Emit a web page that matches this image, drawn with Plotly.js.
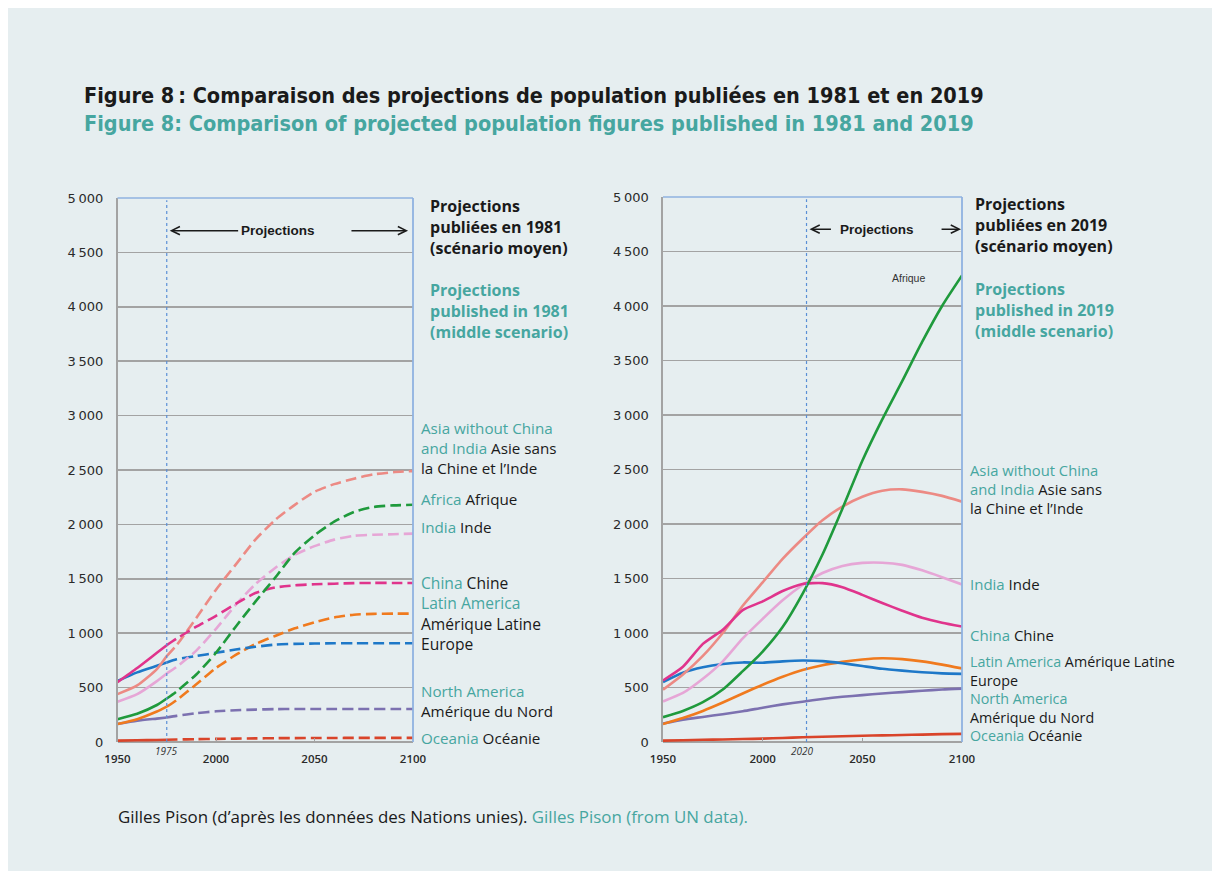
<!DOCTYPE html>
<html>
<head>
<meta charset="utf-8">
<script src="https://cdn.plot.ly/plotly-3.0.1.min.js"></script>
<style>
  html, body { margin:0; padding:0; background:#ffffff; }
  #chart { position:absolute; left:8px; top:8px; width:1204px; height:863px; }
</style>
</head>
<body>
<div id="chart"></div>
<script>
// ---------------- DATA ----------------
// Projections published in 1981 (millions)
const years1981Hist = [1950, 1960, 1970, 1975];
const years1981Proj = [1975, 1980, 1990, 2000, 2010, 2020, 2030, 2040, 2050, 2060, 2070, 2080, 2090, 2100];

const asia1981Hist   = [440, 520, 670, 790];
const asia1981Proj   = [790, 890, 1140, 1400, 1630, 1860, 2040, 2180, 2300, 2370, 2420, 2460, 2480, 2490];
const africa1981Hist = [210, 260, 340, 400];
const africa1981Proj = [400, 465, 620, 820, 1060, 1290, 1510, 1740, 1900, 2025, 2115, 2160, 2175, 2180];
const india1981Hist  = [370, 440, 560, 630];
const india1981Proj  = [630, 690, 840, 1040, 1260, 1450, 1600, 1720, 1800, 1860, 1895, 1905, 1910, 1915];
const china1981Hist  = [550, 680, 820, 890];
const china1981Proj  = [890, 950, 1060, 1160, 1270, 1370, 1420, 1440, 1450, 1455, 1460, 1462, 1462, 1462];
const latam1981Hist  = [165, 210, 280, 325];
const latam1981Proj  = [325, 385, 530, 680, 800, 900, 975, 1045, 1100, 1145, 1170, 1178, 1180, 1180];
const europe1981Hist = [560, 640, 700, 730];
const europe1981Proj = [730, 760, 790, 820, 850, 875, 895, 902, 905, 907, 908, 908, 908, 908];
const noram1981Hist  = [165, 195, 215, 225];
const noram1981Proj  = [225, 240, 265, 282, 292, 298, 302, 303, 303, 303, 303, 303, 303, 303];
const oceania1981Hist = [13, 16, 19, 21];
const oceania1981Proj = [21, 23, 26, 29, 31, 33, 35, 36, 37, 37, 38, 38, 38, 38];

// Projections published in 2019 (millions)
const years2019 = [1950, 1960, 1970, 1980, 1990, 2000, 2010, 2020, 2030, 2040, 2050, 2060, 2070, 2080, 2090, 2100];
const asia2019    = [480, 620, 790, 1000, 1250, 1465, 1680, 1865, 2035, 2160, 2250, 2305, 2318, 2295, 2258, 2205];
const africa2019  = [228, 285, 365, 481, 650, 830, 1055, 1360, 1720, 2140, 2580, 2960, 3310, 3670, 4000, 4280];
const india2019   = [372, 450, 580, 740, 950, 1130, 1300, 1440, 1550, 1615, 1643, 1645, 1625, 1575, 1512, 1445];
const china2019   = [565, 690, 900, 1030, 1210, 1290, 1385, 1450, 1458, 1420, 1350, 1275, 1205, 1140, 1095, 1060];
const latam2019   = [165, 220, 285, 362, 445, 525, 598, 660, 705, 735, 757, 768, 760, 740, 710, 675];
const europe2019  = [550, 635, 685, 715, 730, 727, 740, 748, 742, 722, 697, 672, 655, 640, 630, 625];
const noram2019   = [170, 205, 230, 255, 282, 315, 345, 370, 395, 415, 430, 445, 458, 470, 482, 490];
const oceania2019 = [13, 16, 20, 23, 27, 31, 37, 43, 48, 53, 57, 61, 64, 68, 72, 75];

// Axis ticks
const yTickVals = [0, 500, 1000, 1500, 2000, 2500, 3000, 3500, 4000, 4500, 5000];
const yTickText = ['0', '500', '1\u2009000', '1\u2009500', '2\u2009000', '2\u2009500', '3\u2009000', '3\u2009500', '4\u2009000', '4\u2009500', '5\u2009000'];
const xTickVals = [1950, 2000, 2050, 2100];
const xTickText = ['1950', '2000', '2050', '2100'];
const startProj1981 = 1975;
const startProj2019 = 2022;

// Texts
const titleFr = 'Figure 8\u2009: Comparaison des projections de population publiées en 1981 et en 2019';
const titleEn = 'Figure 8: Comparison of projected population figures published in 1981 and 2019';
const sourceFr = 'Gilles Pison (d\u2019après les données des Nations unies).';
const sourceEn = 'Gilles Pison (from UN data).';

// ---------------- STYLE ----------------
const TEAL = '#46a6a0';
const BLACK = '#1a1a1a';
const GRID = '#a3a3a3';
const FRAME = '#8fb2e0';
const col = {
  asia: '#ec8a84', africa: '#1f9a3c', india: '#e6a6d6', china: '#e0348c',
  latam: '#f07a1e', europe: '#1e78c8', noram: '#7c71b0', oceania: '#d9442a'
};
const TITLE_FONT = 'Liberation Sans Narrow, DejaVu Sans Condensed, sans-serif';

const W = 1204, H = 863;
const px = x => (x - 8) / W;           // page x -> paper
const py = y => (871 - y) / H;         // page y -> paper

const traces = [];
function add1981(hist, proj, c) {
  traces.push({x: years1981Hist, y: hist, xaxis: 'x', yaxis: 'y', mode: 'lines',
    line: {color: c, width: 2.6, shape: 'spline', smoothing: 0.6}, hoverinfo: 'skip'});
  traces.push({x: years1981Proj, y: proj, xaxis: 'x', yaxis: 'y', mode: 'lines',
    line: {color: c, width: 2.6, dash: '11px,5px', shape: 'spline', smoothing: 0.6}, hoverinfo: 'skip'});
}
function add2019(vals, c) {
  traces.push({x: years2019, y: vals, xaxis: 'x2', yaxis: 'y2', mode: 'lines',
    line: {color: c, width: 2.6, shape: 'spline', smoothing: 0.6}, hoverinfo: 'skip'});
}
add1981(oceania1981Hist, oceania1981Proj, col.oceania);
add1981(noram1981Hist, noram1981Proj, col.noram);
add1981(latam1981Hist, latam1981Proj, col.latam);
add1981(europe1981Hist, europe1981Proj, col.europe);
add1981(india1981Hist, india1981Proj, col.india);
add1981(asia1981Hist, asia1981Proj, col.asia);
add1981(china1981Hist, china1981Proj, col.china);
add1981(africa1981Hist, africa1981Proj, col.africa);

add2019(oceania2019, col.oceania);
add2019(noram2019, col.noram);
add2019(latam2019, col.latam);
add2019(europe2019, col.europe);
add2019(india2019, col.india);
add2019(asia2019, col.asia);
add2019(china2019, col.china);
add2019(africa2019, col.africa);

const yAxisBase = {
  range: [0, 5000], tickvals: yTickVals, ticktext: yTickText,
  showgrid: true, gridcolor: GRID, gridwidth: 1.6,
  zeroline: true, zerolinecolor: GRID, zerolinewidth: 1.6,
  showline: true, linecolor: GRID, linewidth: 1.6,
  ticks: '', ticklabelstandoff: 10,
  tickfont: {family: 'DejaVu Sans', size: 13, color: '#2a2a2a'},
  automargin: false, fixedrange: true
};
const xAxisBase = {
  range: [1950, 2100], tickvals: xTickVals, ticktext: xTickText,
  showgrid: false, zeroline: false, showline: false,
  ticks: 'inside', ticklen: 4, tickcolor: GRID, tickwidth: 1,
  ticklabelstandoff: 8,
  tickfont: {family: 'Open Sans', size: 11.5, color: '#2a2a2a', weight: 600},
  automargin: false, fixedrange: true
};

const annotations = [];
// block of lines: lines[], first/last line y in page pixels
function block(x, yFirst, yLast, lines, size, weight, color) {
  annotations.push({
    xref: 'paper', yref: 'paper', x: px(x), y: py((yFirst + yLast) / 2),
    text: lines.join('<br>'), showarrow: false, xanchor: 'left', yanchor: 'middle', align: 'left',
    borderpad: 0,
    font: {family: 'Open Sans', size: size, color: color || TEAL, weight: weight || 400}
  });
}
const K = s => '<span style="color:' + BLACK + '">' + s + '</span>';

// Title second line
annotations.push({xref: 'paper', yref: 'paper', x: px(83), y: py(124), xanchor: 'left', yanchor: 'middle',
  text: titleEn, showarrow: false, borderpad: 0,
  font: {family: TITLE_FONT, size: 21.5, color: TEAL, weight: 700}});

// Left headers
block(429, 206, 248, ['Projections', 'publiées en 1981', '(scénario moyen)'], 16, 700, BLACK);
block(429, 290, 333, ['Projections', 'published in 1981', '(middle scenario)'], 16, 700, TEAL);
// Left labels
block(420, 429, 468, ['Asia without China', 'and India ' + K('Asie sans'), K('la Chine et l\u2019Inde')], 15.2);
block(420, 499, 499, ['Africa ' + K('Afrique')], 15.2);
block(420, 527, 527, ['India ' + K('Inde')], 15.2);
block(420, 582, 644, ['China ' + K('Chine'), 'Latin America', K('Amérique Latine'), K('Europe')], 15.6);
block(420, 691, 711, ['North America', K('Amérique du Nord')], 15.2);
block(420, 738, 738, ['Oceania ' + K('Océanie')], 15.2);

// Right headers
block(974, 204, 246, ['Projections', 'publiées en 2019', '(scénario moyen)'], 16, 700, BLACK);
block(974, 289, 331, ['Projections', 'published in 2019', '(middle scenario)'], 16, 700, TEAL);
// Right labels
block(969, 470, 508, ['Asia without China', 'and India ' + K('Asie sans'), K('la Chine et l\u2019Inde')], 14.8);
block(969, 584, 584, ['India ' + K('Inde')], 15);
block(969, 635, 635, ['China ' + K('Chine')], 15);
block(969, 662, 735, ['Latin America ' + K('Amérique Latine'), K('Europe'), 'North America',
  K('Amérique du Nord'), 'Oceania ' + K('Océanie')], 14.3);

// Source
annotations.push({xref: 'paper', yref: 'paper', x: px(117), y: py(816), xanchor: 'left', yanchor: 'middle',
  showarrow: false, borderpad: 0,
  text: sourceFr + ' <span style="color:' + TEAL + '">' + sourceEn + '</span>',
  font: {family: 'Open Sans', size: 16.9, color: BLACK}});

// In-chart texts
annotations.push({xref: 'x', yref: 'y', x: 2031.5, y: 4700, text: '<b>Projections</b>', showarrow: false,
  font: {family: 'Liberation Sans', size: 13.5, color: BLACK}});
annotations.push({xref: 'x2', yref: 'y2', x: 2057.5, y: 4705, text: '<b>Projections</b>', showarrow: false,
  font: {family: 'Liberation Sans', size: 13.5, color: BLACK}});
annotations.push({xref: 'x2', yref: 'y2', x: 2073, y: 4260, text: 'Afrique', showarrow: false,
  font: {family: 'Liberation Sans', size: 10.5, color: '#333'}});
// year markers
annotations.push({xref: 'x', yref: 'y', x: startProj1981, y: 0, yshift: 0, text: '<i>1975</i>', showarrow: false,
  yanchor: 'top', font: {family: 'Open Sans', size: 10, color: '#333'}});
annotations.push({xref: 'x2', yref: 'y2', x: 2020, y: 0, yshift: 0, text: '<i>2020</i>', showarrow: false,
  yanchor: 'top', font: {family: 'Open Sans', size: 10, color: '#333'}});
// arrows
function arrow(xr, yr, hx, tx, y) {
  annotations.push({xref: xr, yref: yr, axref: xr, ayref: yr, x: hx, y: y, ax: tx, ay: y,
    text: '', showarrow: true, arrowhead: 5, arrowsize: 1.1, arrowwidth: 1.5, arrowcolor: BLACK, standoff: 0});
}
arrow('x', 'y', 1976.5, 2012, 4700);
arrow('x', 'y', 2097.5, 2068, 4700);
arrow('x2', 'y2', 2023.5, 2035, 4705);
arrow('x2', 'y2', 2099.5, 2089, 4705);

const shapes = [
  // projection start lines
  {type: 'line', xref: 'x', yref: 'y', x0: startProj1981, x1: startProj1981, y0: 0, y1: 4980,
    line: {color: '#5a8fd6', width: 1.2, dash: 'dot'}},
  {type: 'line', xref: 'x2', yref: 'y2', x0: startProj2019, x1: startProj2019, y0: 0, y1: 4980,
    line: {color: '#5a8fd6', width: 1.2, dash: 'dot'}},
  // blue frame (top + right)
  {type: 'line', xref: 'x domain', yref: 'y domain', x0: 0, x1: 1, y0: 1, y1: 1, line: {color: FRAME, width: 1.6}},
  {type: 'line', xref: 'x domain', yref: 'y domain', x0: 1, x1: 1, y0: 0, y1: 1, line: {color: FRAME, width: 1.8}},
  {type: 'line', xref: 'x2 domain', yref: 'y2 domain', x0: 0, x1: 1, y0: 1, y1: 1, line: {color: FRAME, width: 1.6}},
  {type: 'line', xref: 'x2 domain', yref: 'y2 domain', x0: 1, x1: 1, y0: 0, y1: 1, line: {color: FRAME, width: 1.8}}
];

const layout = {
  width: W, height: H,
  margin: {l: 0, r: 0, t: 0, b: 0},
  paper_bgcolor: '#e6eef0', plot_bgcolor: 'rgba(0,0,0,0)',
  showlegend: false,
  title: {text: '<b>' + titleFr + '</b>', xref: 'paper', yref: 'paper', x: px(84), xanchor: 'left',
    y: py(95), yanchor: 'middle',
    font: {family: TITLE_FONT, size: 21.5, color: BLACK}},
  xaxis: Object.assign({}, xAxisBase, {domain: [px(117.5), px(413)], anchor: 'y'}),
  yaxis: Object.assign({}, yAxisBase, {domain: [py(742), py(198)], anchor: 'x'}),
  xaxis2: Object.assign({}, xAxisBase, {domain: [px(663), px(962)], anchor: 'y2'}),
  yaxis2: Object.assign({}, yAxisBase, {domain: [py(742), py(197)], anchor: 'x2'}),
  annotations: annotations,
  shapes: shapes
};

Plotly.newPlot('chart', traces, layout, {displayModeBar: false, staticPlot: true});
</script>
</body>
</html>
